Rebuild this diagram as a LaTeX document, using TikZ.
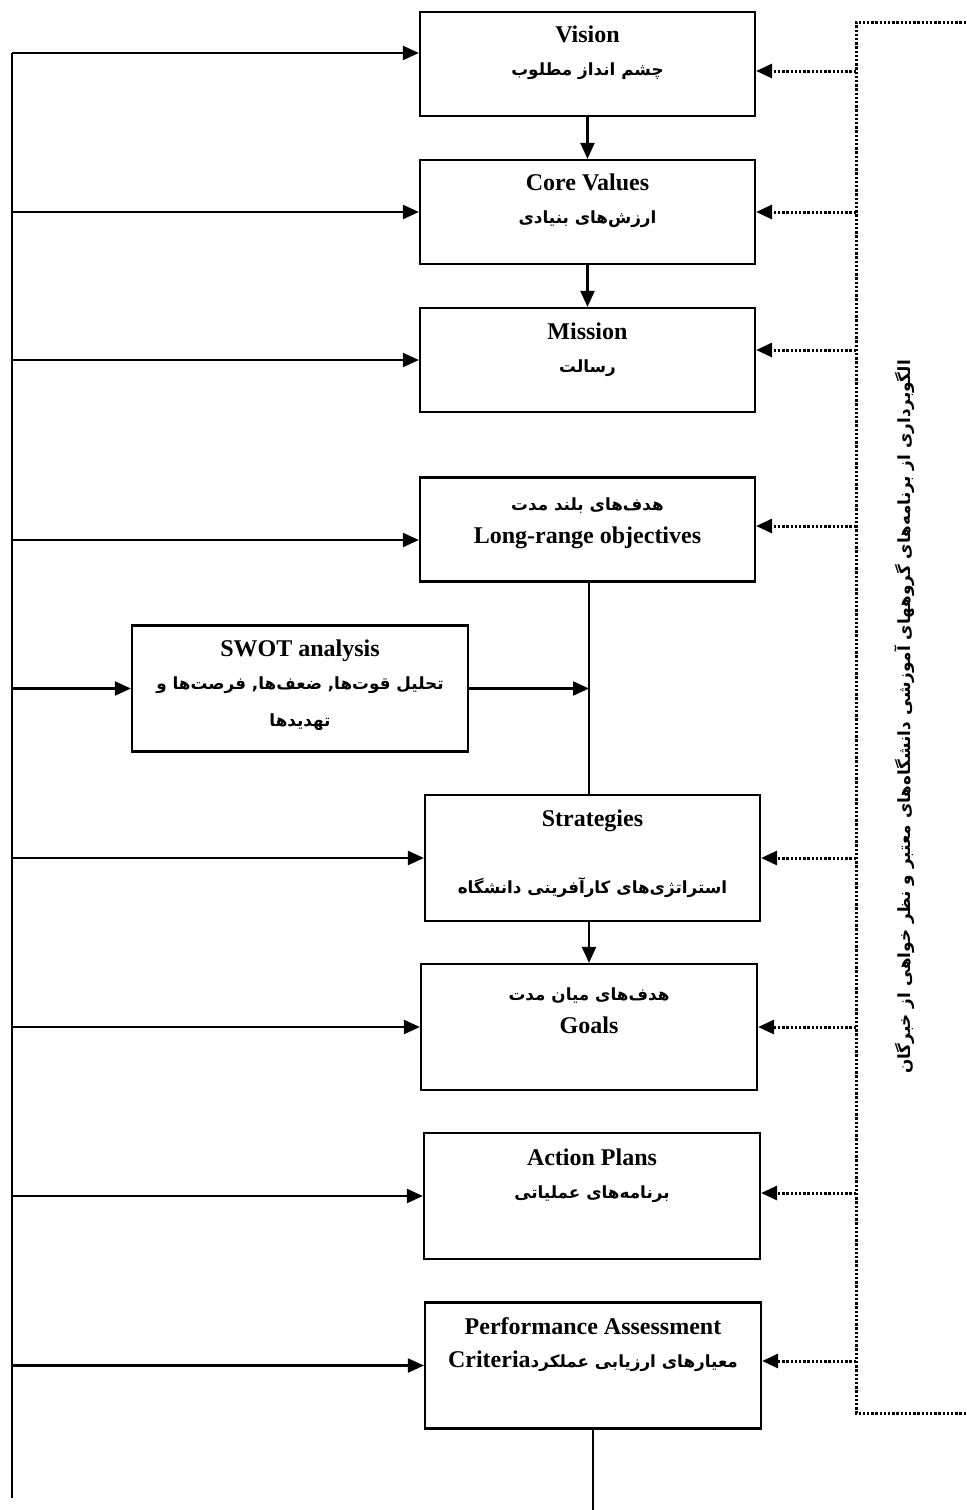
\documentclass[tikz,border=0pt]{standalone}
\usepackage{fontspec}
\setmainfont{Liberation Serif}
\newfontfamily\persianfont[Script=Arabic]{DejaVu Sans}
\TeXXeTstate=1
\usepackage{tikz}
\usetikzlibrary{arrows.meta}
\newcommand{\fatext}[1]{{\persianfont\bfseries\fontsize{8.4}{16.5}\selectfont\beginR #1\endR}}

\begin{document}
\begin{tikzpicture}[x=0.5pt, y=-0.5pt,
    box/.style={draw, line width=1.1pt, inner sep=0pt, minimum width=167.5pt, minimum height=52pt},
    tallbox/.style={box, minimum height=63pt},
    label text/.style={align=center, inner sep=0pt, font=\fontsize{12}{16.5}\selectfont\bfseries},
    flow/.style={line width=1.1pt, -{Triangle[length=8pt, width=7pt]}},
    dots/.style={line width=1.5pt, dash pattern=on 1.2pt off 0.9pt},
    feed/.style={dots, -{Triangle[length=8pt, width=7pt]}},
    plain/.style={line width=1.1pt}]
    \useasboundingbox (0,0) rectangle (966,1510);

    % boxes
    \node[box] (vision) at (587.5,64) {};
    \node[box] (core) at (587.5,212) {};
    \node[box] (mission) at (587.5,360) {};
    \node[box] (longrange) at (587.5,529.5) {};
    \node[tallbox, minimum width=168pt] (swot) at (300,688.5) {};
    \node[tallbox] (strategies) at (592.5,858) {};
    \node[tallbox, minimum width=168pt] (goals) at (589,1027) {};
    \node[tallbox, minimum width=168pt] (action) at (592,1196) {};
    \node[tallbox, minimum width=168pt] (perf) at (593,1365.5) {};

    % texts
    \node[label text] (visiont) at (587.5,53) {Vision\\\fatext{چشم انداز مطلوب}};
    \node[label text] (coret) at (587.5,201) {Core Values\\\fatext{ارزش‌های بنیادی}};
    \node[label text] (missiont) at (587.5,350) {Mission\\\fatext{رسالت}};
    \node[label text] (longranget) at (587.5,523) {\fatext{هدف‌های بلند مدت}\\Long-range objectives};
    \node[label text] (swott) at (300,685) {SWOT analysis\\\fatext{تحلیل قوت‌ها, ضعف‌ها, فرصت‌ها و}\\[2pt]\fatext{تهدیدها}};
    \node[label text] (strategiest) at (592.5,854) {Strategies\\[17pt]\fatext{استراتژی‌های کارآفرینی دانشگاه}};
    \node[label text] (goalst) at (589,1011) {\fatext{هدف‌های میان مدت}\\Goals};
    \node[label text] (actiont) at (592,1176) {Action Plans\\\fatext{برنامه‌های عملیاتی}};
    \node[label text] (perft) at (593,1345) {Performance Assessment\\Criteria\fatext{معیارهای ارزیابی عملکرد}};

    % side note
    \node[rotate=90, inner sep=0pt, font=\fontsize{8.4}{10}\selectfont] (note) at (905,717)
        {\persianfont\bfseries\beginR الگوبرداری از برنامه‌های گروههای آموزشی دانشگاه‌های معتبر و نظر خواهی از خبرگان\endR};

    % main chain
    \draw[flow] (vision) -- (core);
    \draw[flow] (core) -- (mission);
    \draw[plain] (longrange.south -| 589,0) -- (strategies.north -| 589,0);
    \coordinate (swotin) at (589,688.5);
    \draw[flow] (swot.east) -- (swotin);
    \draw[flow] (strategies.south -| goals.north) -- (goals.north);
    \coordinate (endpt) at (593,1510);
    \draw[plain] (perf.south) -- (endpt);

    % left feedback line
    \coordinate (spinetop) at (12,53);
    \coordinate (spinebot) at (12,1498);
    \draw[plain] (spinetop) -- (spinebot);
    \draw[flow] (spinetop) -- (spinetop -| vision.west);
    \draw[flow] (spinetop |- core.west) -- (core.west);
    \draw[flow] (spinetop |- mission.west) -- (mission.west);
    \draw[flow] (spinetop |- 0,540) -- (longrange.west |- 0,540);
    \draw[flow] (spinetop |- swot.west) -- (swot.west);
    \draw[flow] (spinetop |- strategies.west) -- (strategies.west);
    \draw[flow] (spinetop |- goals.west) -- (goals.west);
    \draw[flow] (spinetop |- action.west) -- (action.west);
    \draw[flow] (spinetop |- perf.west) -- (perf.west);

    % right dotted bracket
    \coordinate (bracktop) at (856,22);
    \coordinate (brackbot) at (856,1413);
    \coordinate (bracktopr) at (966,22);
    \coordinate (brackbotr) at (966,1413);
    \draw[dots] (bracktopr) -- (bracktop) -- (brackbot) -- (brackbotr);
    \draw[feed] (bracktop |- 0,71) -- (vision.east |- 0,71);
    \draw[feed] (bracktop |- core.east) -- (core.east);
    \draw[feed] (bracktop |- 0,350) -- (mission.east |- 0,350);
    \draw[feed] (bracktop |- 0,526) -- (longrange.east |- 0,526);
    \draw[feed] (bracktop |- strategies.east) -- (strategies.east);
    \draw[feed] (bracktop |- goals.east) -- (goals.east);
    \draw[feed] (bracktop |- 0,1193) -- (action.east |- 0,1193);
    \draw[feed] (bracktop |- 0,1361) -- (perf.east |- 0,1361);
\end{tikzpicture}
\end{document}
